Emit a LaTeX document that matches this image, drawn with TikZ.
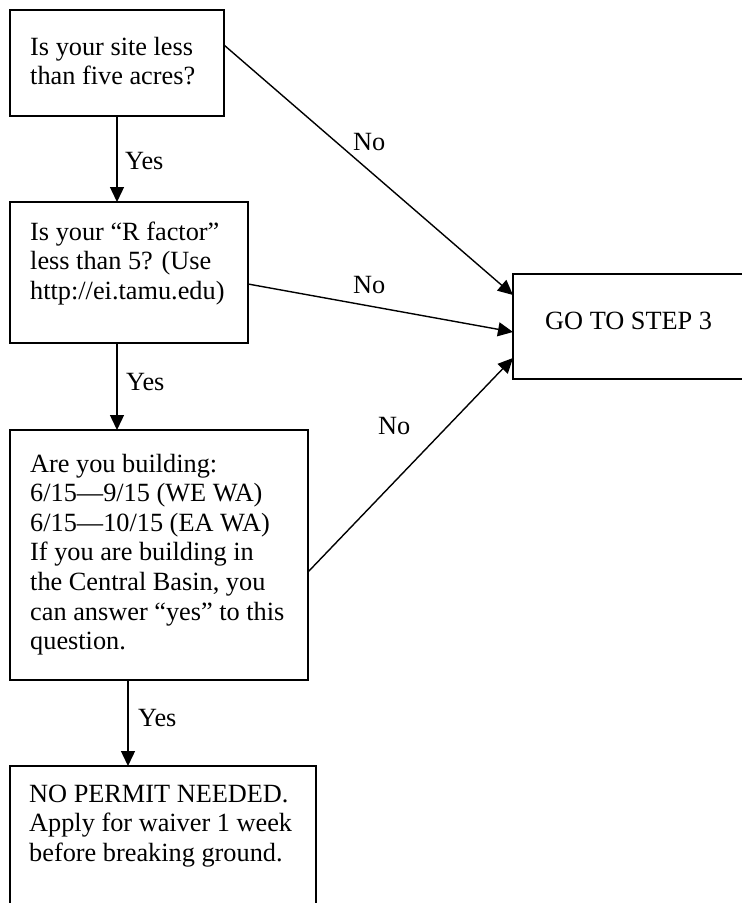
\documentclass[tikz,border=0pt]{standalone}
\usepackage{fontspec}
\setmainfont{Liberation Serif}
\usetikzlibrary{arrows.meta,calc}
\begin{document}
\begin{tikzpicture}[x=1pt,y=-1pt,
  box/.style={draw, line width=1.6pt, rectangle, inner sep=0pt, outer sep=0pt, anchor=north west},
  txt/.style={anchor=base west, inner sep=0pt, font=\fontsize{26.3}{29.6}\selectfont},
  arr/.style={line width=1.4pt, -{Triangle[length=15pt,width=14pt]}},
  lbl/.style={anchor=base west, inner sep=0pt, font=\fontsize{26.3}{29.6}\selectfont}]
\useasboundingbox (0,0) rectangle (742,903);
\clip (0,0) rectangle (742,903);
% boxes
\node[box, minimum width=214pt, minimum height=106pt] (b1) at (10,10) {};
\node[box, minimum width=238pt, minimum height=141pt] (b2) at (10,202) {};
\node[box, minimum width=298pt, minimum height=250pt] (b3) at (10,430) {};
\node[box, minimum width=306pt, minimum height=160pt] (b4) at (10,766) {};
\node[box, minimum width=240pt, minimum height=105pt] (g) at (513,274) {};
% texts
\node[txt] (t1) at (30,55) {\vtop{\hbox{Is your site less}\hbox{than five acres?}}};
\node[txt] (t2) at (30,240) {\vtop{\hbox{Is your “R factor”}\hbox{less than 5? (Use}\hbox{http://ei.tamu.edu)}}};
\node[txt] (t3) at (30,472) {\vtop{\hbox{Are you building:}\hbox{6/15—9/15 (WE WA)}\hbox{6/15—10/15 (EA WA)}\hbox{If you are building in}\hbox{the Central Basin, you}\hbox{can answer “yes” to this}\hbox{question.}}};
\node[txt] (t4) at (29,802) {\vtop{\hbox{NO PERMIT NEEDED.}\hbox{Apply for waiver 1 week}\hbox{before breaking ground.}}};
\node[lbl] (tg) at (545,329) {GO TO STEP 3};
% connectors
\draw[arr] (b1.south) -- (b1.south |- b2.north);
\draw[arr] (b2.south -| b1.south) -- (b3.north -| b1.south);
\draw[arr] ([xshift=118pt]b3.south west) -- ([xshift=118pt]b4.north west);
\draw[arr] ([yshift=-35pt]b1.north east) -- ([yshift=-21pt]g.north west);
\draw[arr] ([yshift=-82pt]b2.north east) -- ([yshift=-58pt]g.north west);
\draw[arr] ([yshift=-142pt]b3.north east) -- ([yshift=-84pt]g.north west);
% labels
\node[lbl] (y1) at (125,169) {Yes};
\node[lbl] (y2) at (126,390) {Yes};
\node[lbl] (y3) at (138,726) {Yes};
\node[lbl] (n1) at (353,150) {No};
\node[lbl] (n2) at (353,293) {No};
\node[lbl] (n3) at (378,434) {No};
\end{tikzpicture}
\end{document}
